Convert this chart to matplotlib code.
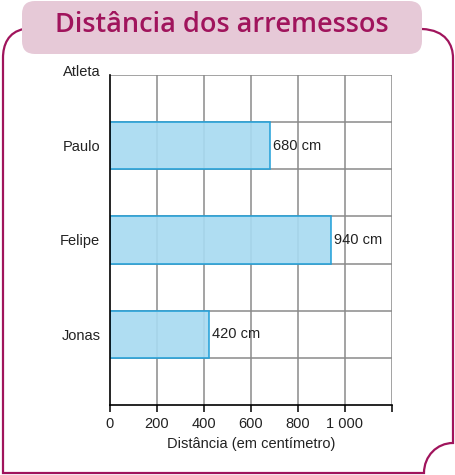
import matplotlib
matplotlib.use("Agg")
import matplotlib.pyplot as plt
from matplotlib.path import Path
from matplotlib.patches import PathPatch, FancyBboxPatch

athletes = ["Jonas", "Felipe", "Paulo"]
distances = [420, 940, 680]
tick_values = [0, 200, 400, 600, 800, 1000, 1200]
tick_labels = ["0", "200", "400", "600", "800", "1 000", ""]
title = "Distância dos arremessos"
xlabel = "Distância (em centímetro)"
ylabel = "Atleta"

W, H = 455, 475
fig = plt.figure(figsize=(W / 100, H / 100), dpi=100)

bg = fig.add_axes([0, 0, 1, 1])
bg.set_xlim(0, W)
bg.set_ylim(H, 0)
bg.axis("off")

mag = "#a0145c"
verts = [
    (24, 29), (8, 32), (3, 45), (3, 58),
    (3, 473),
    (424, 473),
    (424, 456), (437, 443), (453, 443),
    (453, 58),
    (453, 45), (446, 30), (422, 29),
]
codes = [Path.MOVETO, Path.CURVE4, Path.CURVE4, Path.CURVE4,
         Path.LINETO, Path.LINETO,
         Path.CURVE4, Path.CURVE4, Path.CURVE4,
         Path.LINETO,
         Path.CURVE4, Path.CURVE4, Path.CURVE4]
bg.add_patch(PathPatch(Path(verts, codes), fill=False, edgecolor=mag, lw=1.6))

bg.add_patch(FancyBboxPatch((22, 1), 400, 53, boxstyle="round,pad=0,rounding_size=13",
                            facecolor="#e6c9d7", edgecolor="none"))
bg.text(222, 25, title, ha="center", va="center", fontsize=19.5, color=mag,
        family=["Open Sans", "DejaVu Sans"], fontweight="semibold")

ax = fig.add_axes([110 / W, 1 - 405 / H, (392 - 110) / W, (405 - 75) / H])
ax.set_xlim(0, 1200)
ax.set_ylim(0, 7)
grid_c = "#8a8a8a"
for v in tick_values[1:]:
    ax.axvline(v, color=grid_c, lw=1.1, zorder=1)
for r in range(1, 8):
    ax.axhline(r, color=grid_c, lw=1.1, zorder=1)

ypos = [1.5, 3.5, 5.5]
ax.barh(ypos, distances, height=1.0, color="#a8daf1", edgecolor="#1f9fd9",
        lw=1.2, zorder=2, alpha=0.92)
for y, d in zip(ypos, distances):
    ax.text(d + 12, y, f"{d} cm", ha="left", va="center", fontsize=10.5,
            family=["Liberation Sans", "DejaVu Sans"], zorder=3, color="#222222")

for s in ["top", "right"]:
    ax.spines[s].set_visible(False)
ax.spines["left"].set_color("black")
ax.spines["bottom"].set_color("black")
ax.spines["left"].set_linewidth(1.2)
ax.spines["bottom"].set_linewidth(1.2)
ax.set_xticks(tick_values)
ax.set_xticklabels(tick_labels, family=["Liberation Sans", "DejaVu Sans"], fontsize=10.5,
                   color="#222222")
ax.tick_params(axis="x", length=5, width=1.1, direction="out", pad=4)
ax.set_yticks(ypos)
ax.set_yticklabels(athletes, family=["Liberation Sans", "DejaVu Sans"], fontsize=10.5,
                   color="#222222")
ax.tick_params(axis="y", length=0, pad=7)
ax.set_xlabel(xlabel, family=["Liberation Sans", "DejaVu Sans"], fontsize=10.5,
              color="#222222", labelpad=4)
ax.set_facecolor("white")
bg.text(82, 72, ylabel, ha="center", va="center", fontsize=10.5,
        family=["Liberation Sans", "DejaVu Sans"], color="#222222")

fig.savefig("out.png", dpi=100)
